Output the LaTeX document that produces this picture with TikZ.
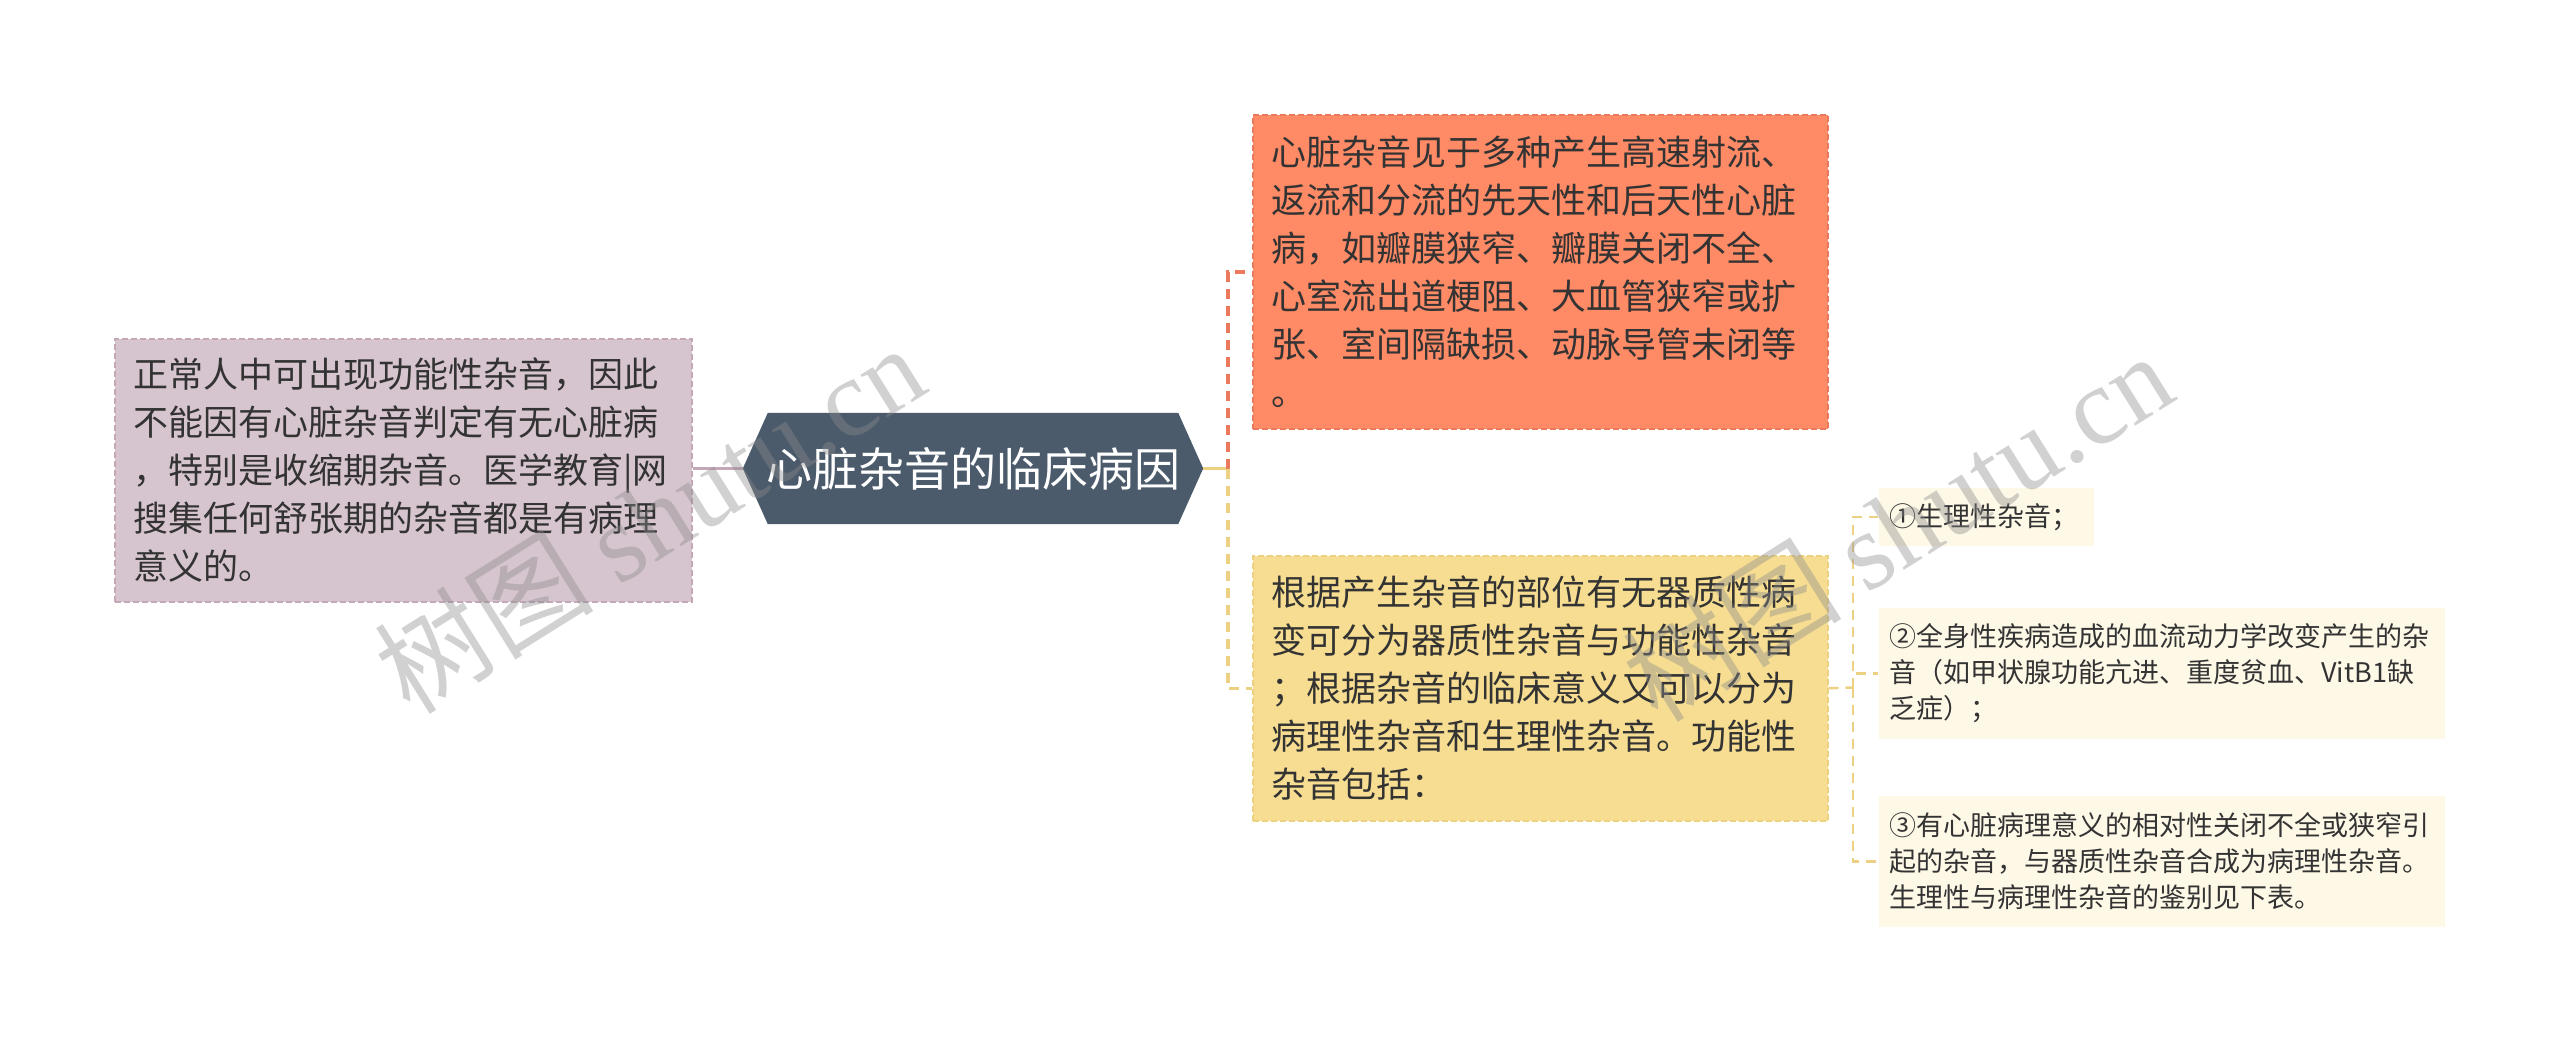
\documentclass[tikz,border=0pt]{standalone}
\usepackage{fontspec}
\setmainfont{Noto Sans CJK SC}
\newfontfamily\wmlatin{Liberation Serif}
\usetikzlibrary{backgrounds}
\definecolor{pinkfill}{HTML}{D6C4CE}
\definecolor{pinkline}{HTML}{C4A8B6}
\definecolor{hexfill}{HTML}{4B5B6B}
\definecolor{orfill}{HTML}{FE8A66}
\definecolor{orline}{HTML}{EB7A5C}
\definecolor{yefill}{HTML}{F6DD91}
\definecolor{yeline}{HTML}{EDD183}
\definecolor{crfill}{HTML}{FEF8E7}
\definecolor{txt}{HTML}{333333}
\definecolor{wmgray}{HTML}{8C8C8C}
\begin{document}
\begin{tikzpicture}[x=1pt,y=-1pt,
  box/.style={anchor=north west, inner sep=0pt, align=left, text=txt, line width=1.5pt, dash pattern=on 6pt off 3pt},
  bigtext/.style={font=\fontsize{35}{48}\selectfont},
  smalltext/.style={font=\fontsize{27}{36}\selectfont},
  pinkbox/.style={box, bigtext, fill=pinkfill, draw=pinkline},
  orbox/.style={box, bigtext, fill=orfill, draw=orline},
  yebox/.style={box, bigtext, fill=yefill, draw=yeline},
  crbox/.style={box, smalltext, fill=crfill, draw=none},
  conn/.style={line width=3.5pt},
  pinkconn/.style={conn, draw=pinkline},
  yesolid/.style={conn, draw=yeline},
  odash/.style={conn, draw=orline, dash pattern=on 10pt off 7pt},
  ydash/.style={conn, draw=yeline, dash pattern=on 10pt off 7pt},
  ydashthin/.style={line width=2.5pt, draw=yeline, dash pattern=on 10pt off 7pt},
  wm/.style={text=wmgray, text opacity=0.4, font=\fontsize{110}{120}\selectfont, rotate=32}
]
\useasboundingbox (0,0) rectangle (2560,1041);

% central topic
\node[minimum width=460pt, minimum height=111pt, inner sep=0pt, text=white,
      font=\fontsize{46}{52}\selectfont] (C) at (973,468.5) {心脏杂音的临床病因};
\begin{scope}[on background layer]
\fill[white] (0,0) rectangle (2560,1041);
\fill[hexfill] (C.west) -- ([xshift=25pt]C.north west) -- ([xshift=-25pt]C.north east)
  -- (C.east) -- ([xshift=-25pt]C.south east) -- ([xshift=25pt]C.south west) -- cycle;
\end{scope}

% left
\node[pinkbox, minimum width=577pt, minimum height=263pt, text width=540pt] (L) at (114,338)
{正常人中可出现功能性杂音，因此\\不能因有心脏杂音判定有无心脏病\\，特别是收缩期杂音。医学教育|网\\搜集任何舒张期的杂音都是有病理\\意义的。};

% right
\node[orbox, minimum width=575pt, minimum height=314pt, text width=537pt] (O) at (1252,114)
{心脏杂音见于多种产生高速射流、\\返流和分流的先天性和后天性心脏\\病，如瓣膜狭窄、瓣膜关闭不全、\\心室流出道梗阻、大血管狭窄或扩\\张、室间隔缺损、动脉导管未闭等\\。};

\node[yebox, minimum width=575pt, minimum height=265pt, text width=537pt] (Y) at (1252,555)
{根据产生杂音的部位有无器质性病\\变可分为器质性杂音与功能性杂音\\；根据杂音的临床意义又可以分为\\病理性杂音和生理性杂音。功能性\\杂音包括：};

\node[crbox, minimum width=215pt, minimum height=58pt, text width=193pt] (S1) at (1878,487)
{①生理性杂音；};
\node[crbox, minimum width=566pt, minimum height=131pt, text width=545pt] (S2) at (1878,607)
{②全身性疾病造成的血流动力学改变产生的杂\\音（如甲状腺功能亢进、重度贫血、VitB1缺\\乏症）；};
\node[crbox, minimum width=566pt, minimum height=131pt, text width=545pt] (S3) at (1878,795)
{③有心脏病理意义的相对性关闭不全或狭窄引\\起的杂音，与器质性杂音合成为病理性杂音。\\生理性与病理性杂音的鉴别见下表。};

% connectors
\draw[pinkconn] (C.west) -- (C.west -| L.east);
\coordinate (J) at (1228,468.5);
\draw[yesolid] (C.east) -- (J);
\draw[odash] (J) |- (O.west);
\draw[ydash] (J) |- (Y.west);
\coordinate (J2) at (1853,687.5);
\draw[ydashthin] (Y.east) -- (J2);
\draw[ydashthin] (J2) |- (S1.west);
\draw[ydashthin] (J2) |- (S2.west);
\draw[ydashthin] (J2) |- (S3.west);

% watermarks
\node[wm] (W1) at (649,518) {树图 {\wmlatin shutu.cn}};
\node[wm] (W2) at (1897,526) {树图 {\wmlatin shutu.cn}};
\end{tikzpicture}
\end{document}
